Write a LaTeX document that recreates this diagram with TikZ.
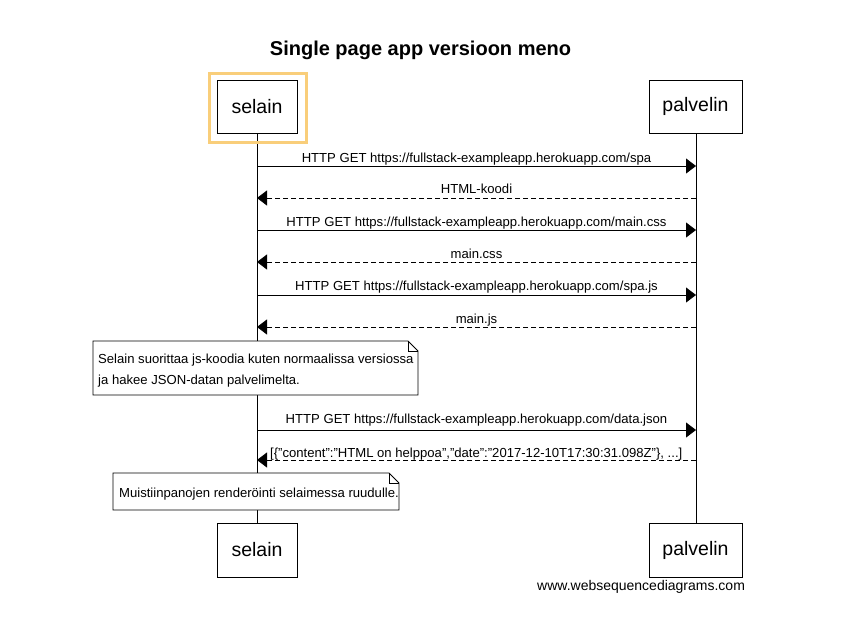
\documentclass[tikz,border=0pt]{standalone}
\usepackage{fontspec}
\setmainfont{Liberation Sans}
\usetikzlibrary{arrows.meta}
\definecolor{hl}{RGB}{249,206,122}
\newcommand{\dq}{\char34\relax}
\tikzset{
  actor/.style={draw, line width=0.8pt, fill=white, inner sep=0pt, font=\fontsize{19.5}{22}\selectfont},
  msg/.style={line width=0.8pt, -{Triangle[length=10pt,width=15pt]}},
  reply/.style={msg, dash pattern=on 5pt off 3pt},
  lbl/.style={font=\fontsize{13.1}{15}\selectfont, inner sep=0pt, anchor=base},
  notetext/.style={font=\fontsize{13.1}{21}\selectfont, inner sep=0pt, anchor=north west, align=left},
  life/.style={line width=0.8pt},
  notebox/.style={line width=0.8pt, fill=white},
}
\begin{document}
\begin{tikzpicture}[x=1pt,y=-1pt]
\useasboundingbox (0,0) rectangle (847,638);
\fill[white] (0,0) rectangle (847,638);
% title
\node[font=\bfseries\fontsize{20}{24}\selectfont, inner sep=0pt, anchor=base] (title) at (420.5,55) {Single page app versioon meno};
% lifelines
\draw[life] (257,133) -- (257,523);
\draw[life] (696,133) -- (696,523);
% actors
\node[actor, minimum width=80pt, minimum height=53pt] (selT) at (257,106.5) {selain};
\node[actor, minimum width=93pt, minimum height=53pt] (palT) at (695.5,106.5) {palvelin};
\node[actor, minimum width=80pt, minimum height=54pt] (selB) at (257,550) {selain};
\node[actor, minimum width=93pt, minimum height=54pt] (palB) at (695.5,550) {palvelin};
% highlight
\node[draw=hl, line width=3pt, minimum width=97pt, minimum height=69pt, inner sep=0pt] (hlbox) at (257.5,107.5) {};
% messages
\coordinate (s1) at (257,166); \coordinate (p1) at (696,166);
\draw[msg] (s1) -- (p1);
\node[lbl] (l1) at (476.5,162) {HTTP GET https://fullstack-exampleapp.herokuapp.com/spa};
\coordinate (s2) at (257,198); \coordinate (p2) at (696,198);
\draw[reply] (p2) -- (s2);
\node[lbl] (l2) at (476.5,193) {HTML-koodi};
\coordinate (s3) at (257,230); \coordinate (p3) at (696,230);
\draw[msg] (s3) -- (p3);
\node[lbl] (l3) at (476.5,226) {HTTP GET https://fullstack-exampleapp.herokuapp.com/main.css};
\coordinate (s4) at (257,262); \coordinate (p4) at (696,262);
\draw[reply] (p4) -- (s4);
\node[lbl] (l4) at (476.5,258) {main.css};
\coordinate (s5) at (257,295); \coordinate (p5) at (696,295);
\draw[msg] (s5) -- (p5);
\node[lbl] (l5) at (476.5,290) {HTTP GET https://fullstack-exampleapp.herokuapp.com/spa.js};
\coordinate (s6) at (257,327); \coordinate (p6) at (696,327);
\draw[reply] (p6) -- (s6);
\node[lbl] (l6) at (476.5,323) {main.js};
% note 1
\draw[notebox] (93,341) -- (408,341) -- (418,351) -- (418,395) -- (93,395) -- cycle;
\draw[line width=0.8pt] (408,341) -- (408,351) -- (418,351);
\node[notetext] (n1) at (98,353.5) {Selain suorittaa js-koodia kuten normaalissa versiossa\\ja hakee JSON-datan palvelimelta.};
% messages 7-8
\coordinate (s7) at (257,430); \coordinate (p7) at (696,430);
\draw[msg] (s7) -- (p7);
\node[lbl] (l7) at (476.5,423) {HTTP GET https://fullstack-exampleapp.herokuapp.com/data.json};
\coordinate (s8) at (257,460); \coordinate (p8) at (696,460);
\draw[reply] (p8) -- (s8);
\node[lbl, anchor=base west] (l8) at (270,457) {[\{\dq content\dq:\dq HTML on helppoa\dq,\dq date\dq:\dq 2017-12-10T17:30:31.098Z\dq\}, ...]};
% note 2
\draw[notebox] (113,473) -- (389,473) -- (399,483) -- (399,510) -- (113,510) -- cycle;
\draw[line width=0.8pt] (389,473) -- (389,483) -- (399,483);
\node[lbl, anchor=base west] (n2) at (119,497) {Muistiinpanojen renderöinti selaimessa ruudulle.};
% footer
\node[font=\fontsize{14}{16}\selectfont, inner sep=0pt, anchor=base west] (foot) at (537,590) {www.websequencediagrams.com};
\end{tikzpicture}
\end{document}
